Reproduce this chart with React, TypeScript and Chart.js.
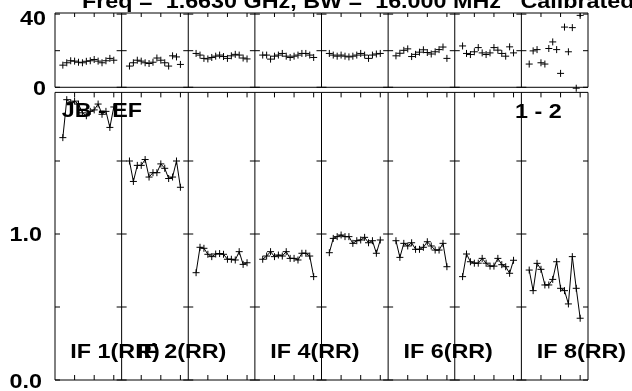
import React, { useEffect, useRef } from "react";
import { Chart, registerables } from "chart.js";

Chart.register(...registerables);

// ---------- data ----------
const channels = [2, 3, 4, 5, 6, 7, 8, 9, 10, 11, 12, 13, 14, 15];
const channelTicks = [5, 10, 15];
const ifLabels = ["IF 1(RR)", "IF 2(RR)", "IF 3(RR)", "IF 4(RR)", "IF 5(RR)", "IF 6(RR)", "IF 7(RR)", "IF 8(RR)"];
const visibleIfLabels = [0, 1, 3, 5, 7];

const phaseIF1 = [12.1, 13.4, 14.5, 14.3, 13.7, 13.4, 14.2, 14.5, 15.2, 14.3, 13.4, 14.5, 15.8, 14.8];
const phaseIF2 = [11.6, 13.4, 14.8, 14.3, 13.4, 13.0, 13.7, 16.0, 14.8, 13.4, 11.6, 17.2, 16.6, 12.5];
const phaseIF3 = [18.5, 17.6, 15.8, 15.5, 16.3, 17.0, 17.6, 16.8, 15.8, 17.2, 18.0, 17.6, 16.0, 15.5];
const phaseIF4 = [17.6, 17.6, 15.4, 17.0, 17.6, 18.5, 17.0, 16.3, 17.0, 17.6, 18.5, 18.5, 17.6, 16.3];
const phaseIF5 = [18.5, 17.6, 17.0, 17.6, 17.0, 16.6, 17.0, 17.6, 18.5, 17.6, 15.8, 17.6, 18.2, 18.5];
const phaseIF6 = [17.2, 18.6, 20.2, 21.0, 16.8, 18.0, 19.2, 20.5, 19.0, 18.2, 19.4, 20.6, 22.0, 15.8];
const phaseIF7 = [22.6, 18.5, 17.9, 19.4, 21.7, 18.8, 17.9, 18.8, 21.7, 20.3, 18.5, 17.0, 22.1, 18.8];
const phaseIF8 = [12.7, 19.9, 20.6, 13.4, 12.7, 21.2, 24.8, 20.6, 7.6, 32.9, 19.4, 32.6, -0.5, 39.3];

const ampIF1 = [1.66, 1.92, 1.90, 1.91, 1.89, 1.83, 1.81, 1.84, 1.85, 1.89, 1.82, 1.84, 1.73, 1.87];
const ampIF2 = [1.50, 1.36, 1.47, 1.47, 1.51, 1.39, 1.42, 1.42, 1.48, 1.45, 1.38, 1.39, 1.50, 1.32];
const ampIF3 = [0.735, 0.909, 0.902, 0.861, 0.845, 0.863, 0.866, 0.861, 0.827, 0.827, 0.822, 0.879, 0.792, 0.803];
const ampIF4 = [0.827, 0.849, 0.879, 0.845, 0.856, 0.849, 0.879, 0.833, 0.833, 0.822, 0.868, 0.868, 0.849, 0.708];
const ampIF5 = [0.872, 0.970, 0.982, 0.993, 0.982, 0.982, 0.936, 0.954, 0.959, 0.977, 0.940, 0.954, 0.868, 0.959];
const ampIF6 = [0.954, 0.840, 0.936, 0.918, 0.940, 0.895, 0.895, 0.909, 0.947, 0.918, 0.890, 0.890, 0.936, 0.776];
const ampIF7 = [0.708, 0.863, 0.810, 0.800, 0.800, 0.833, 0.800, 0.780, 0.780, 0.833, 0.790, 0.776, 0.731, 0.820];
const ampIF8 = [0.753, 0.612, 0.799, 0.758, 0.651, 0.651, 0.689, 0.810, 0.628, 0.612, 0.521, 0.845, 0.628, 0.423];

const phaseSeries = [phaseIF1, phaseIF2, phaseIF3, phaseIF4, phaseIF5, phaseIF6, phaseIF7, phaseIF8];
const ampSeries = [ampIF1, ampIF2, ampIF3, ampIF4, ampIF5, ampIF6, ampIF7, ampIF8];

const phaseTicks = [0, 20, 40];
const phaseTickLabels = ["0", "40"];
const ampTicks = [0, 0.5, 1.0, 1.5];
const ampTickLabels = ["0.0", "1.0"];

const titleText = "Freq =  1.6630 GHz, BW =  16.000 MHz   Calibrated with CL 2";
const baselineText = "JB - EF";
const stokesText = "1 - 2";

// ---------- layout constants ----------
const PANEL_UNITS = 17;
const N_IF = 8;
const PHASE_MIN = -159.95;
const PHASE_MAX = 40.6;
const AMP_MAX = 2.5137;
const AMP_TOP = 1.97;
const FONT = 'bold 20px "Liberation Sans", Arial, sans-serif';
const SX = 1.167;

function sText(ctx: CanvasRenderingContext2D, text: string, x: number, y: number, align: CanvasTextAlign) {
  ctx.save();
  ctx.translate(x, y);
  ctx.scale(SX, 1);
  ctx.textAlign = align;
  ctx.textBaseline = "alphabetic";
  ctx.fillText(text, 0, 0);
  ctx.restore();
}

function seg(ctx: CanvasRenderingContext2D, x1: number, y1: number, x2: number, y2: number) {
  ctx.beginPath();
  ctx.moveTo(x1, y1);
  ctx.lineTo(x2, y2);
  ctx.stroke();
}

const framePlugin = {
  id: "framePlugin",
  beforeDatasetsDraw(chart: any) {
    const { ctx, chartArea: a, scales } = chart;
    const xs = scales.x, yp = scales.yPhase, ya = scales.yAmp;
    const pTop = a.top;
    const pBot = yp.getPixelForValue(0);
    const aTop = ya.getPixelForValue(AMP_TOP);
    const aBot = ya.getPixelForValue(0);
    ctx.save();
    ctx.strokeStyle = "#000";
    ctx.lineWidth = 1;
    seg(ctx, a.left, pTop, a.right, pTop);
    seg(ctx, a.left, pBot, a.right, pBot);
    seg(ctx, a.left, aTop, a.right, aTop);
    seg(ctx, a.left, aBot, a.right, aBot);
    for (let k = 0; k <= N_IF; k++) {
      const xk = xs.getPixelForValue(k * PANEL_UNITS);
      seg(ctx, xk, pTop, xk, pBot);
      seg(ctx, xk, aTop, xk, aBot);
      const l = k > 0 ? xk - 5 : xk;
      const r = k < N_IF ? xk + 5 : xk;
      for (const v of phaseTicks) {
        const y = yp.getPixelForValue(v);
        seg(ctx, l, y, r, y);
      }
      for (const v of ampTicks) {
        const y = ya.getPixelForValue(v);
        seg(ctx, l, y, r, y);
      }
      if (k < N_IF) {
        for (const c of channelTicks) {
          const xx = xs.getPixelForValue(k * PANEL_UNITS + c);
          seg(ctx, xx, pTop, xx, pTop + 4);
          seg(ctx, xx, aTop, xx, aTop + 5);
          seg(ctx, xx, aBot, xx, aBot - 5);
        }
      }
    }
    ctx.restore();
  },
  afterDatasetsDraw(chart: any) {
    const { ctx, chartArea: a, scales } = chart;
    const xs = scales.x, yp = scales.yPhase, ya = scales.yAmp;
    ctx.save();
    ctx.fillStyle = "#000";
    ctx.font = FONT;
    sText(ctx, titleText, 82, 7.5, "left");
    sText(ctx, phaseTickLabels[0], 46, yp.getPixelForValue(0) + 7.5, "right");
    sText(ctx, phaseTickLabels[1], 46, yp.getPixelForValue(40) + 10.5, "right");
    sText(ctx, ampTickLabels[0], 42, ya.getPixelForValue(0) + 8, "right");
    sText(ctx, ampTickLabels[1], 42, ya.getPixelForValue(1) + 7.2, "right");
    sText(ctx, baselineText, a.left + 6.7, 117, "left");
    sText(ctx, stokesText, 515, 118, "left");
    for (const i of visibleIfLabels) {
      const x0 = xs.getPixelForValue(i * PANEL_UNITS);
      sText(ctx, ifLabels[i], x0 + 15.3, 358, "left");
    }
    ctx.restore();
  },
};

export default function App() {
  const ref = useRef<HTMLCanvasElement>(null);
  useEffect(() => {
    if (!ref.current) return;
    const datasets: any[] = [];
    ampSeries.forEach((vals, i) => {
      datasets.push({
        label: "amp " + ifLabels[i],
        data: channels.map((c, j) => ({ x: i * PANEL_UNITS + c, y: vals[j] })),
        yAxisID: "yAmp",
        showLine: true,
        borderColor: "#000",
        borderWidth: 1,
        pointStyle: "cross",
        pointRadius: 3.5,
        pointBorderColor: "#000",
        pointBorderWidth: 1,
        backgroundColor: "#000",
      });
    });
    phaseSeries.forEach((vals, i) => {
      datasets.push({
        label: "phase " + ifLabels[i],
        data: channels.map((c, j) => ({ x: i * PANEL_UNITS + c, y: vals[j] })),
        yAxisID: "yPhase",
        showLine: false,
        pointStyle: "cross",
        pointRadius: 3.5,
        pointBorderColor: "#000",
        pointBorderWidth: 1,
        backgroundColor: "#000",
      });
    });
    const chart = new Chart(ref.current, {
      type: "scatter",
      data: { datasets },
      options: {
        animation: false,
        responsive: false,
        devicePixelRatio: 1,
        layout: { padding: { left: 55, right: 44, top: 13, bottom: 11 } },
        plugins: { legend: { display: false }, tooltip: { enabled: false }, title: { display: false } },
        scales: {
          x: { type: "linear", min: 0, max: N_IF * PANEL_UNITS, display: false },
          yPhase: { type: "linear", position: "left", min: PHASE_MIN, max: PHASE_MAX, display: false },
          yAmp: { type: "linear", position: "left", min: 0, max: AMP_MAX, display: false },
        },
      },
      plugins: [framePlugin],
    });
    return () => chart.destroy();
  }, []);
  return (
    <div style={{ position: "fixed", left: 0, top: 0, width: 632, height: 391, background: "#fff" }}>
      <canvas ref={ref} width={632} height={391} style={{ display: "block" }} />
    </div>
  );
}
